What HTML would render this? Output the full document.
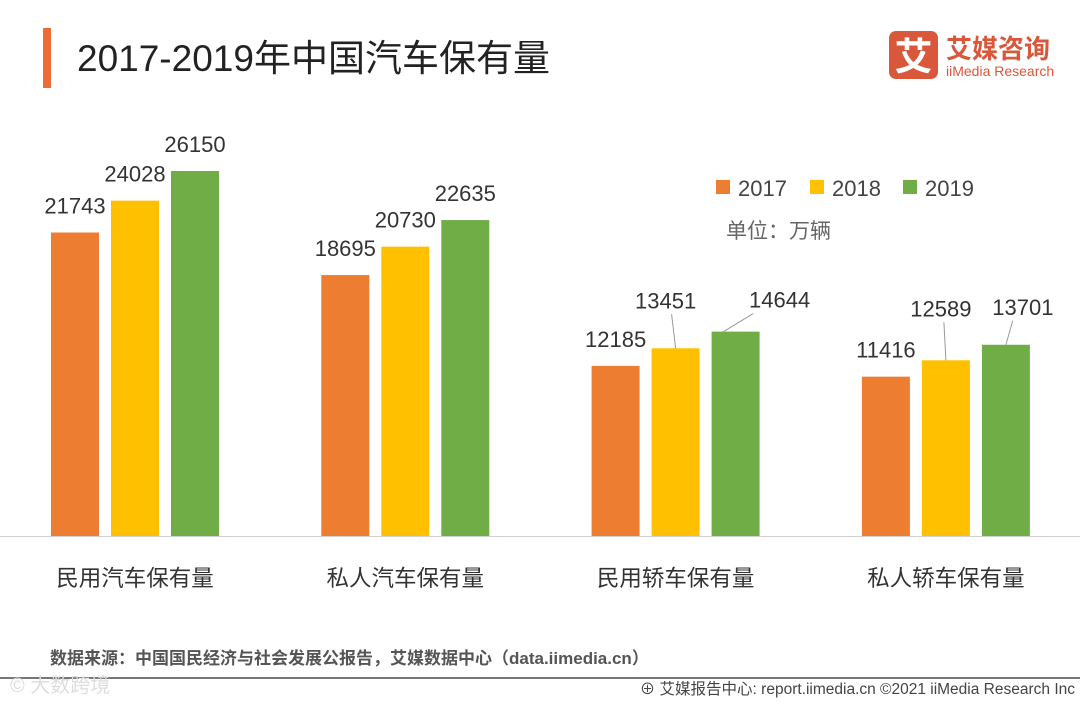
<!DOCTYPE html>
<html><head><meta charset="utf-8"><style>
body{margin:0;width:1080px;height:702px;background:#fff;overflow:hidden;font-family:"Liberation Sans","Noto Sans CJK SC",sans-serif}
svg text{font-family:"Liberation Sans","Noto Sans CJK SC",sans-serif}
</style></head><body>
<svg width="1080" height="702">
<rect x="43" y="28" width="8" height="60" fill="#F06A35"/>
<text x="77" y="71" font-size="37" fill="#222">2017-2019年中国汽车保有量</text>
<g>
<rect x="889" y="31" width="49" height="48" rx="7" fill="#D9573B"/>
<text x="913.5" y="70" font-size="38" fill="#fff" text-anchor="middle" font-weight="bold">艾</text>
<text x="946" y="58" font-size="26" fill="#D9573B" font-weight="bold">艾媒咨询</text>
<text x="946" y="76" font-size="14" fill="#D9573B">iiMedia Research</text>
</g>
<g id="bars"></g>
<line x1="0" y1="536.5" x2="1080" y2="536.5" stroke="#d0d0d0"/>
<g>
<rect x="716" y="180" width="14" height="14" fill="#ED7D31"/><text x="738" y="196" font-size="22" fill="#444">2017</text>
<rect x="810" y="180" width="14" height="14" fill="#FFC000"/><text x="832" y="196" font-size="22" fill="#444">2018</text>
<rect x="903" y="180" width="14" height="14" fill="#70AD47"/><text x="925" y="196" font-size="22" fill="#444">2019</text>
<text x="726" y="238" font-size="21" fill="#666">单位：万辆</text>
</g>
<text x="50" y="664" font-size="17" fill="#555" font-weight="bold">数据来源：中国国民经济与社会发展公报告，艾媒数据中心（data.iimedia.cn）</text>
<line x1="0" y1="678" x2="1080" y2="678" stroke="#777" stroke-width="2"/>
<text x="10" y="692" font-size="20" fill="#ddd">© 大数跨境</text>
<text x="1075" y="694" font-size="15.5" fill="#444" text-anchor="end">⊕ 艾媒报告中心: report.iimedia.cn  ©2021  iiMedia Research Inc</text>
</svg>
<script>
const categories=["民用汽车保有量","私人汽车保有量","民用轿车保有量","私人轿车保有量"];
const years=["2017","2018","2019"];
const s2017=[21743,18695,12185,11416];
const s2018=[24028,20730,13451,12589];
const s2019=[26150,22635,14644,13701];
const series=[s2017,s2018,s2019];
const colors=["#ED7D31","#FFC000","#70AD47"];
const base=536,scale=365/26150;
const y=v=>base-v*scale;
const gx=i=>51+i*270.3;
const bx=(i,j)=>gx(i)+j*60;
const bw=48;
const NS="http://www.w3.org/2000/svg";
const g=document.getElementById("bars");
function mk(t,a){const e=document.createElementNS(NS,t);for(const k in a)e.setAttribute(k,a[k]);g.appendChild(e);return e;}
const off={"2,1":[-10,-40],"2,2":[44,-24],"3,1":[-5,-44],"3,2":[17,-30]};
categories.forEach((c,i)=>{
  series.forEach((s,j)=>{
    const x=bx(i,j),top=y(s[i]);
    const r=mk("rect",{x:x,y:top,width:bw,height:base-top,fill:colors[j]});
    
    
    const o=off[i+","+j];
    let lx=x+bw/2,ly=top-19;
    if(o){lx+=o[0];ly=top+o[1];
      const l=mk("line",{x1:x+bw/2+o[0]*0.4,y1:ly+6,x2:x+bw/2-(o[0]>20?12:0),y2:top,stroke:"#999","stroke-width":1});
      
      
    }
    const t=mk("text",{x:lx,y:ly,"font-size":22,fill:"#333","text-anchor":"middle"});
    t.textContent=s[i];
    
    
  });
  const t=mk("text",{x:gx(i)+84,y:586,"font-size":22.5,fill:"#333","text-anchor":"middle"});
  t.textContent=c;
  
  
});
</script>
</body></html>
